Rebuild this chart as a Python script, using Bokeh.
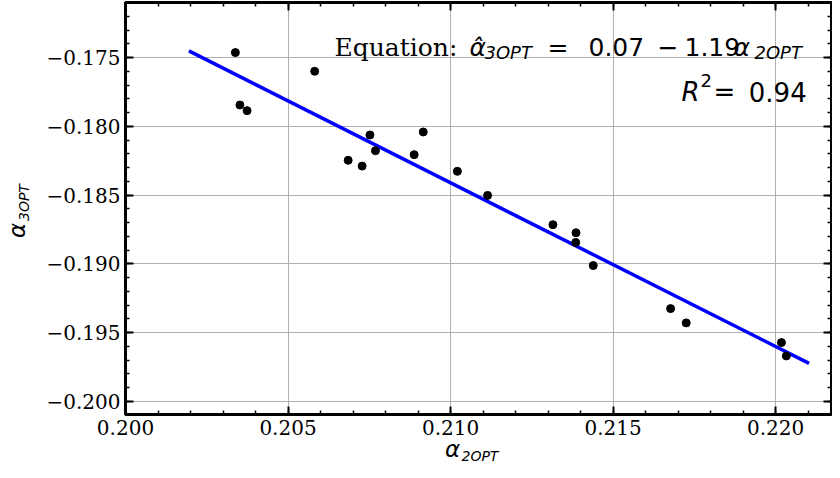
from bokeh.plotting import figure
from bokeh.models import (Range1d, SingleIntervalTicker, LinearAxis,
                          CustomJSTickFormatter, Label, Div)
from bokeh.layouts import row, column
from bokeh.embed import file_html
from bokeh.resources import INLINE

# ---- data ----
alpha_2opt = [0.20338, 0.20352, 0.20374, 0.20582, 0.20685, 0.20728, 0.20752,
              0.20769, 0.20888, 0.20916, 0.21021, 0.21114, 0.21315, 0.21386,
              0.21385, 0.21439, 0.21677, 0.21725, 0.22018, 0.22033]
alpha_3opt = [-0.17464, -0.17845, -0.17886, -0.17600, -0.18247, -0.18289,
              -0.18063, -0.18177, -0.18206, -0.18041, -0.18327, -0.18502,
              -0.18715, -0.18774, -0.18844, -0.19012, -0.19325, -0.19429,
              -0.19572, -0.19669]
fit_x = [0.20195, 0.22103]
fit_intercept = 0.0658
fit_slope = -1.19
fit_y = [fit_intercept + fit_slope * v for v in fit_x]
r_squared = "0.94"
x_label = ("\u03b1", "2OPT")
y_label = ("\u03b1", "3OPT")

LEFT_W = 35          # width of the column holding the y-axis label
P_W, P_H = 797, 444  # figure canvas

p = figure(width=P_W, height=P_H, output_backend="svg", toolbar_location=None,
           x_range=Range1d(0.200, 0.22172), y_range=Range1d(-0.200946, -0.17100),
           min_border_left=125 - LEFT_W, min_border_right=1, min_border_top=2,
           min_border_bottom=30)
p.background_fill_color = "white"
p.border_fill_color = "white"
p.outline_line_color = "black"
p.outline_line_width = 3
p.outline_line_alpha = 1

xt = SingleIntervalTicker(interval=0.005, num_minor_ticks=5)
yt = SingleIntervalTicker(interval=0.005, num_minor_ticks=5)
fmt = CustomJSTickFormatter(code="return tick.toFixed(3).replace('-', '\\u2212');")
blank = CustomJSTickFormatter(code="return '';")


def style_axis(ax, ticker, labels):
    ax.ticker = ticker
    ax.axis_line_color = None
    ax.major_tick_in = 8
    ax.major_tick_out = 0
    ax.minor_tick_in = 4
    ax.minor_tick_out = 0
    ax.major_tick_line_width = 2
    ax.minor_tick_line_width = 1.5
    ax.major_tick_line_color = "black"
    ax.minor_tick_line_color = "black"
    ax.axis_label = None
    if labels:
        ax.formatter = fmt
        ax.major_label_text_font = "DejaVu Serif"
        ax.major_label_text_font_size = "20px"
        ax.major_label_text_color = "black"
        ax.major_label_standoff = 5
    else:
        ax.formatter = blank
        ax.major_label_text_font_size = "0px"
        ax.major_label_standoff = 0


style_axis(p.xaxis[0], xt, True)
style_axis(p.yaxis[0], yt, True)
p.xgrid.ticker = xt
p.ygrid.ticker = yt
for g in (p.xgrid, p.ygrid):
    g.grid_line_color = "#b0b0b0"
    g.grid_line_width = 1

top_ax = LinearAxis()
style_axis(top_ax, xt, False)
p.add_layout(top_ax, "above")
right_ax = LinearAxis()
style_axis(right_ax, yt, False)
p.add_layout(right_ax, "right")

p.line(fit_x, fit_y, line_color="#0000ff", line_width=3.5)
p.scatter(alpha_2opt, alpha_3opt, size=8, color="black")

# frame bottom-left corner in picture pixels
FX, FY = 125, 414


def mk(text, ix, iy, size, font="DejaVu Sans", style="normal"):
    p.add_layout(Label(x=ix - FX, y=FY - iy, x_units="screen", y_units="screen",
                       text=text, text_font=font, text_font_size=size,
                       text_font_style=style, text_color="black",
                       text_baseline="alphabetic", text_align="left"))


# equation
mk("Equation:", 334, 46.7, "25px", font="DejaVu Serif")
mk("\u03b1\u0302", 469, 46.7, "25px", style="italic")
mk("3OPT", 484, 52.3, "18px", style="italic")
mk("=", 547, 46.7, "25px")
mk("0.07", 588, 46.7, "25px")
mk("\u2212", 657, 46.7, "25px")
mk("1.19", 684, 46.7, "25px")
mk("\u03b1", 733, 46.7, "25px", style="italic")
mk("2OPT", 754, 52.3, "18px", style="italic")

# R squared
mk("R", 681, 91, "26px", style="italic")
mk("2", 700, 80, "18px")
mk("=", 713, 91, "26px")
mk(r_squared, 748.3, 91, "26px")


# axis labels as HTML text (sub-scripted), placed beside the canvas
def span(text, left, top, size, rotate=False):
    rot = "transform:rotate(-90deg);transform-origin:0 0;" if rotate else ""
    return (f'<span style="position:absolute;left:{left}px;top:{top}px;{rot}'
            f"font-family:'DejaVu Sans';font-style:italic;font-size:{size}px;"
            f'line-height:{size}px;white-space:nowrap;color:#000;">{text}</span>')


A_SZ, S_SZ = 23, 14
XL_H = 462 - P_H
x_html = ('<div style="position:relative;width:%dpx;height:%dpx;">' % (P_W, XL_H)
          + span(x_label[0], 445 - LEFT_W, 457.5 - P_H - 0.846 * A_SZ, A_SZ)
          + span(x_label[1], 461.5 - LEFT_W, 461 - P_H - 0.846 * S_SZ, S_SZ)
          + "</div>")
y_html = ('<div style="position:relative;width:%dpx;height:462px;">' % LEFT_W
          + span(y_label[0], 25 - 0.846 * A_SZ, 238, A_SZ, rotate=True)
          + span(y_label[1], 28.5 - 0.846 * S_SZ, 221, S_SZ, rotate=True)
          + "</div>")

xdiv = Div(text=x_html, width=P_W, height=XL_H, margin=0,
           styles={"overflow": "visible"})
ydiv = Div(text=y_html, width=LEFT_W, height=462, margin=0,
           styles={"overflow": "visible"})

layout = row(ydiv, column(p, xdiv, spacing=0), spacing=0)

open("out.html", "w").write(file_html(layout, INLINE))
